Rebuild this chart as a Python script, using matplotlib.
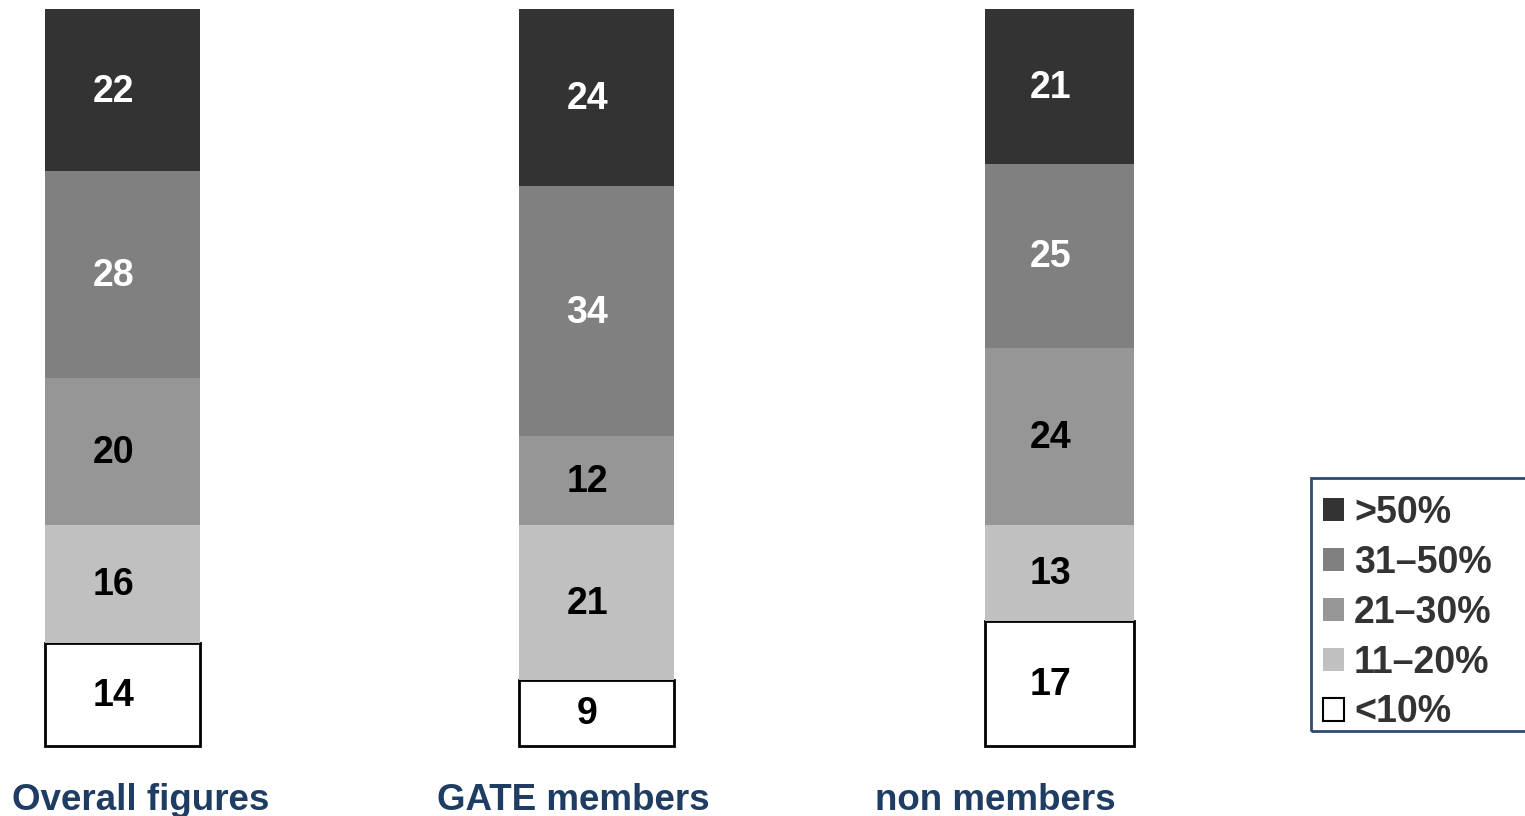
import matplotlib.pyplot as plt
from matplotlib.patches import Rectangle
import numpy as np

plt.rcParams['font.family'] = ['Liberation Sans', 'DejaVu Sans']

groups = ['Overall figures', 'GATE members', 'non members']
bands = ['<10%', '11–20%', '21–30%', '31–50%', '>50%']
under_10 = [14, 9, 17]
from_11_20 = [16, 21, 13]
from_21_30 = [20, 12, 24]
from_31_50 = [28, 34, 25]
over_50 = [22, 24, 21]

colors = ['white', '#c0c0c0', '#969696', '#808080', '#333333']
text_colors = ['black', 'black', 'black', 'white', 'white']
xpos = [122.5, 596.5, 1059.5]
widths = [155, 155, 149]
name_x = [141, 573, 995]

W, H = 1525, 816
fig = plt.figure(figsize=(W / 100, H / 100), dpi=100)
ax = fig.add_axes([0, 70 / H, 1, 737 / H])

series = [under_10, from_11_20, from_21_30, from_31_50, over_50]
bottom = np.zeros(3)
for i, vals in enumerate(series):
    vals = np.array(vals, dtype=float)
    edge = 'black' if i == 0 else 'none'
    bars = ax.bar(xpos, vals, width=widths, bottom=bottom, color=colors[i],
                  edgecolor=edge, linewidth=2 if i == 0 else 0, label=bands[i])
    for b in bars:
        b.set_clip_on(False)
    for x, b, v in zip(xpos, bottom, vals):
        ax.text(x - 9, b + v / 2 - 0.2, f'{int(v)}', ha='center', va='center',
                fontsize=27, fontweight='bold', color=text_colors[i])
    bottom += vals

ax.set_xlim(0, W)
ax.set_ylim(0, 100)
ax.axis('off')

for x, name in zip(name_x, groups):
    fig.text(x / W, 15 / H, name, ha='center', va='center',
             fontsize=26.5, fontweight='bold', color='#1f3d63')

# legend entries without frame, box drawn separately
handles, labels = ax.get_legend_handles_labels()
leg = fig.legend(handles[::-1], labels[::-1], loc='upper left',
                 bbox_to_anchor=(1308 / W, 1 - 480 / H),
                 prop={'size': 27, 'weight': 'bold'}, labelcolor='#333333',
                 handlelength=0.55, handleheight=0.55, handletextpad=0.28,
                 borderpad=0.4, labelspacing=0.37, borderaxespad=0,
                 frameon=False)
for h in leg.legend_handles:
    h.set_linewidth(1.5)

fig.patches.append(Rectangle((1311 / W, 1 - 731 / H), 230 / W, 253 / H,
                             transform=fig.transFigure, fill=False,
                             edgecolor='#2f4b70', linewidth=2))

fig.savefig('out.png', dpi=100)
